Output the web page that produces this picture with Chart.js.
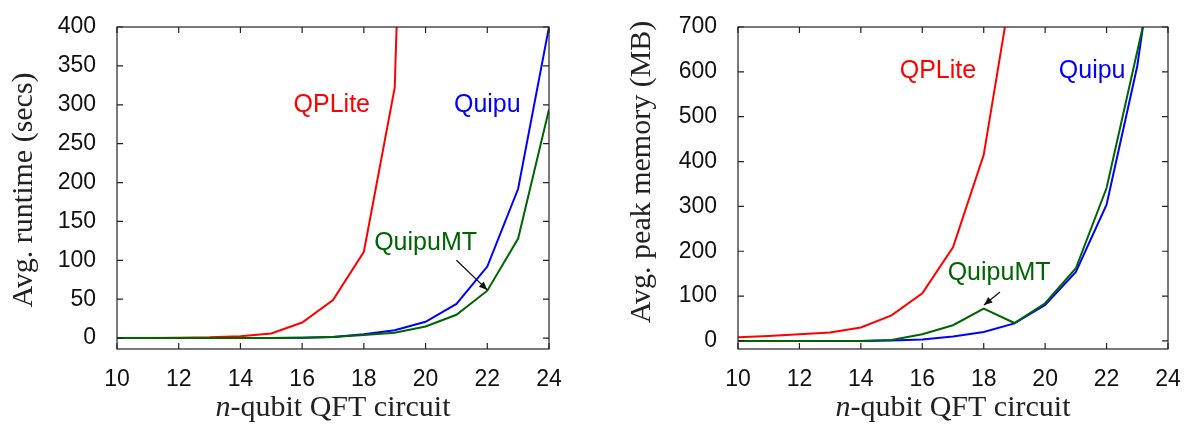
<!DOCTYPE html>
<html>
<head>
<meta charset="utf-8">
<script src="https://cdn.jsdelivr.net/npm/chart.js@4.4.0/dist/chart.umd.min.js"></script>
<style>
html, body { margin: 0; padding: 0; background: #fff; }
#wrap { position: relative; width: 1191px; height: 426px; overflow: hidden; }
.box { position: absolute; top: 0; height: 426px; }
</style>
</head>
<body>
<div id="wrap">
	<div class="box" style="left:0;width:590px"><canvas id="runtime"></canvas></div>
	<div class="box" style="left:595px;width:596px"><canvas id="memory"></canvas></div>
</div>
<script>
// n-qubit QFT circuit sizes
const qubits = [10, 11, 12, 13, 14, 15, 16, 17, 18, 19, 20, 21, 22, 23, 24];
const xTicks = [10, 12, 14, 16, 18, 20, 22, 24];

// left panel: average runtime (secs)
const runtimeTicks = [0, 50, 100, 150, 200, 250, 300, 350, 400];
const qpliteTime  = [0, 0, 0.5, 1, 2.5, 6, 20, 49, 111, 322, 1600];
const quipuTime   = [0, 0, 0, 0, 0, 0, 0.5, 1.5, 5, 10, 21, 44, 92, 192, 400];
const quipuMTTime = [0, 0, 0, 0, 0, 0, 0.5, 1.5, 4, 7, 15, 30, 61, 128, 294];

// right panel: average peak memory (MB)
const memoryTicks = [0, 100, 200, 300, 400, 500, 600, 700];
const qpliteMem  = [8, 11, 15, 19, 30, 57, 106, 209, 415, 828];
const quipuMem   = [0, 0, 0, 0, 0, 1, 3, 10, 20, 39, 80, 154, 304, 613, 1090];
const quipuMTMem = [0, 0, 0, 0, 0, 2, 15, 35, 72, 40, 84, 162, 341, 646, 950];

const RED = '#ff0000', BLUE = '#0000ff', GREEN = '#006400';
const TICK_FONT = { family: '"Liberation Sans", Arial, sans-serif', size: 23 };

function points(values) {
	return values.map(function(v, i) { return { x: qubits[i], y: v }; });
}

/* ------------------------------------------------------ */
// frame, inward ticks, curve labels, arrow and axis titles
const decor = {
	id: 'decor',
	afterDraw: function(chart, args, o) {
		const ctx = chart.ctx, a = chart.chartArea;
		const xs = chart.scales.x, ys = chart.scales.y;
		ctx.save();
		ctx.strokeStyle = '#222';
		ctx.lineWidth = 1.2;
		ctx.strokeRect(a.left, a.top, a.right - a.left, a.bottom - a.top);
		ctx.beginPath();
		xTicks.forEach(function(v) {
			const px = xs.getPixelForValue(v);
			ctx.moveTo(px, a.bottom); ctx.lineTo(px, a.bottom - 6);
			ctx.moveTo(px, a.top); ctx.lineTo(px, a.top + 6);
		});
		o.yTicks.forEach(function(v) {
			const py = ys.getPixelForValue(v);
			ctx.moveTo(a.left, py); ctx.lineTo(a.left + 6, py);
			ctx.moveTo(a.right, py); ctx.lineTo(a.right - 6, py);
		});
		ctx.stroke();

		// curve labels
		ctx.font = '25px "Liberation Sans", Arial, sans-serif';
		ctx.textAlign = 'center';
		ctx.textBaseline = 'middle';
		o.labels.forEach(function(l) {
			ctx.fillStyle = l.color;
			ctx.fillText(l.text, xs.getPixelForValue(l.x), ys.getPixelForValue(l.y));
		});

		// arrow to QuipuMT
		const x0 = xs.getPixelForValue(o.arrow[0]), y0 = ys.getPixelForValue(o.arrow[1]);
		const x1 = xs.getPixelForValue(o.arrow[2]), y1 = ys.getPixelForValue(o.arrow[3]);
		const ang = Math.atan2(y1 - y0, x1 - x0);
		ctx.strokeStyle = '#111';
		ctx.fillStyle = '#111';
		ctx.lineWidth = 1.3;
		ctx.beginPath(); ctx.moveTo(x0, y0); ctx.lineTo(x1, y1); ctx.stroke();
		ctx.beginPath();
		ctx.moveTo(x1, y1);
		ctx.lineTo(x1 - 9 * Math.cos(ang - 0.4), y1 - 9 * Math.sin(ang - 0.4));
		ctx.lineTo(x1 - 9 * Math.cos(ang + 0.4), y1 - 9 * Math.sin(ang + 0.4));
		ctx.closePath(); ctx.fill();

		// y title (rotated)
		ctx.fillStyle = '#222';
		ctx.font = '30px "Liberation Serif", "Times New Roman", serif';
		ctx.textBaseline = 'alphabetic';
		ctx.save();
		ctx.translate(o.yTitleX, o.yTitleY);
		ctx.rotate(-Math.PI / 2);
		ctx.fillText(o.yTitle, 0, 0);
		ctx.restore();

		// x title with italic n
		const it = 'italic 30px "Liberation Serif", "Times New Roman", serif';
		const rm = '30px "Liberation Serif", "Times New Roman", serif';
		ctx.font = it; const w1 = ctx.measureText('n').width;
		ctx.font = rm; const w2 = ctx.measureText('-qubit QFT circuit').width;
		let sx = (a.left + a.right) / 2 - (w1 + w2) / 2;
		ctx.textAlign = 'left';
		ctx.font = it; ctx.fillText('n', sx, 416);
		ctx.font = rm; ctx.fillText('-qubit QFT circuit', sx + w1, 416);
		ctx.restore();
	}
};

function makeChart(id, series, yMin, yMax, yTicks, yWidth, padRight, extra) {
	return new Chart(document.getElementById(id), {
		type: 'line',
		data: {
			datasets: [
				{ label: 'QPLite',   data: points(series[0]), borderColor: RED,   order: 2 },
				{ label: 'Quipu',    data: points(series[1]), borderColor: BLUE,  order: 1 },
				{ label: 'QuipuMT',  data: points(series[2]), borderColor: GREEN, order: 0 }
			]
		},
		options: {
			responsive: true,
			maintainAspectRatio: false,
			animation: false,
			layout: { padding: { top: 27, right: padRight, left: 0, bottom: 0 } },
			elements: {
				line: { borderWidth: 2, tension: 0, fill: false },
				point: { radius: 0, hoverRadius: 0 }
			},
			plugins: {
				legend: { display: false },
				tooltip: { enabled: false },
				decor: extra
			},
			scales: {
				x: {
					type: 'linear', min: 10, max: 24,
					grid: { display: false }, border: { display: false },
					afterBuildTicks: function(s) { s.ticks = xTicks.map(function(v) { return { value: v }; }); },
					afterFit: function(s) { s.height = 77; },
					ticks: { font: TICK_FONT, color: '#111', padding: 9, maxRotation: 0 }
				},
				y: {
					min: yMin, max: yMax,
					grid: { display: false }, border: { display: false },
					afterBuildTicks: function(s) { s.ticks = yTicks.map(function(v) { return { value: v }; }); },
					afterFit: function(s) { s.width = yWidth; },
					ticks: { font: TICK_FONT, color: '#111', padding: 13 }
				}
			}
		},
		plugins: [decor]
	});
}

makeChart('runtime', [qpliteTime, quipuTime, quipuMTTime], -14, 400, runtimeTicks, 117, 41, {
	yTicks: runtimeTicks,
	yTitle: 'Avg. runtime (secs)', yTitleX: 32, yTitleY: 190,
	labels: [
		{ text: 'QPLite', color: RED, x: 16.96, y: 300 },
		{ text: 'Quipu', color: BLUE, x: 22.0, y: 300 },
		{ text: 'QuipuMT', color: GREEN, x: 20.0, y: 122 }
	],
	arrow: [21.0, 100, 22.0, 62]
});

makeChart('memory', [qpliteMem, quipuMem, quipuMTMem], -18, 700, memoryTicks, 143, 23, {
	yTicks: memoryTicks,
	yTitle: 'Avg. peak memory (MB)', yTitleX: 55, yTitleY: 172,
	labels: [
		{ text: 'QPLite', color: RED, x: 16.51, y: 601 },
		{ text: 'Quipu', color: BLUE, x: 21.53, y: 601 },
		{ text: 'QuipuMT', color: GREEN, x: 18.5, y: 151 }
	],
	arrow: [18.53, 109, 18.01, 80]
});
</script>
</body>
</html>
